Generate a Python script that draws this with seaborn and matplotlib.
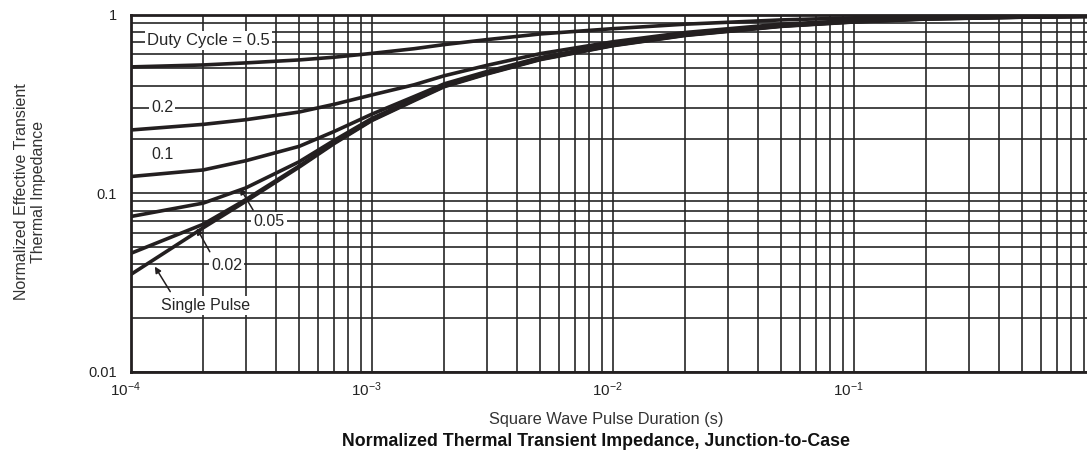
import numpy as np
import pandas as pd
import matplotlib
matplotlib.use("Agg")
import matplotlib.pyplot as plt
import matplotlib.transforms as mtransforms
import seaborn as sns

# pulse duration (s)
pulse = [1e-4, 2e-4, 3e-4, 5e-4, 7e-4, 1e-3, 1.5e-3, 2e-3, 3e-3, 5e-3,
         1e-2, 2e-2, 5e-2, 0.1, 0.2, 0.5, 1.0]

# normalized impedance per duty cycle
z_single = [.035, .064, .090, .14, .19, .255, .33, .395, .465, .56,
            .67, .765, .86, .91, .945, .968, .978]
z_002 = [.046, .067, .092, .142, .192, .257, .333, .398, .468, .563,
         .673, .768, .863, .912, .947, .969, .979]
z_005 = [.074, .088, .107, .15, .198, .262, .337, .402, .472, .567,
         .677, .772, .866, .915, .949, .97, .98]
z_01 = [.124, .135, .152, .183, .222, .277, .348, .41, .48, .575,
        .685, .78, .872, .92, .952, .972, .982]
z_02 = [.226, .243, .258, .285, .315, .355, .405, .455, .52, .605,
        .705, .795, .885, .928, .956, .975, .984]
z_05 = [.51, .523, .537, .558, .578, .607, .645, .68, .725, .78,
        .835, .885, .935, .96, .975, .985, .99]

series = {"Single Pulse": z_single, "0.02": z_002, "0.05": z_005,
          "0.1": z_01, "0.2": z_02, "0.5": z_05}

rows = []
for name, vals in series.items():
    for t, z in zip(pulse, vals):
        rows.append({"t": t, "z": z, "duty": name})
df = pd.DataFrame(rows)

sns.set_style("white")
plt.rcParams["font.family"] = ["Liberation Sans", "DejaVu Sans"]
plt.rcParams["axes.unicode_minus"] = False
plt.rcParams["mathtext.fontset"] = "custom"
plt.rcParams["mathtext.rm"] = "Liberation Sans"
plt.rcParams["mathtext.it"] = "Liberation Sans:italic"
plt.rcParams["mathtext.bf"] = "Liberation Sans:bold"

fig = plt.figure(figsize=(10.87, 4.58), dpi=100)
ax = fig.add_axes([0.1202, 0.1884, 0.887, 0.7795])

sns.lineplot(data=df, x="t", y="z", hue="duty", units="duty", estimator=None,
             palette=["#231f20"] * len(series), linewidth=2.6, legend=False,
             ax=ax, zorder=3)

ax.set_xscale("log")
ax.set_yscale("log")
ax.set_xlim(1e-4, 1)
ax.set_ylim(0.01, 1)
ax.set_xticks([1e-4, 1e-3, 1e-2, 1e-1])
ax.set_xticklabels(["$10^{-4}$", "$10^{-3}$", "$10^{-2}$", "$10^{-1}$"])

ax.grid(True, which="both", color="#262626", linewidth=1.2)
ax.set_axisbelow(True)
for s in ax.spines.values():
    s.set_color("#231f20")
    s.set_linewidth(2)

ax.set_yticks([0.01, 0.1, 1])
ax.set_yticklabels(["0.01", "0.1", "1"])
ax.tick_params(which="both", length=0, labelsize=10.5, colors="#222222")
ax.tick_params(axis="y", pad=10)
ax.tick_params(axis="x", pad=6, labelsize=11)
ax.set_xlabel("")
ax.set_ylabel("")

shift = mtransforms.ScaledTranslation(-5 / 100, 0, fig.dpi_scale_trans)
for lab in ax.get_xticklabels():
    lab.set_transform(lab.get_transform() + shift)

box = dict(facecolor="white", edgecolor="none", pad=1.5)
ax.text(2.1e-4, 0.72, "Duty Cycle = 0.5", ha="center", va="center",
        fontsize=12, bbox=box, zorder=4)
ax.text(1.35e-4, 0.304, "0.2", ha="center", va="center", fontsize=11.5,
        bbox=box, zorder=4)
ax.text(1.35e-4, 0.164, "0.1", ha="center", va="center", fontsize=11.5,
        bbox=box, zorder=4)
ax.text(3.75e-4, 0.069, "0.05", ha="center", va="center", fontsize=11.5,
        bbox=box, zorder=4)
ax.text(2.5e-4, 0.0396, "0.02", ha="center", va="center", fontsize=11.5,
        bbox=box, zorder=4)
ax.text(2.05e-4, 0.0236, "Single Pulse", ha="center", va="center",
        fontsize=11.5, bbox=box, zorder=4)

arrow = dict(arrowstyle="-|>", color="#231f20", lw=1.1, mutation_scale=9,
             shrinkA=0, shrinkB=0)
ax.annotate("", xy=(2.84e-4, 0.107), xytext=(3.22e-4, 0.0805),
            arrowprops=arrow, zorder=5)
ax.annotate("", xy=(1.88e-4, 0.0636), xytext=(2.13e-4, 0.047),
            arrowprops=arrow, zorder=5)
ax.annotate("", xy=(1.26e-4, 0.0388), xytext=(1.46e-4, 0.0281),
            arrowprops=arrow, zorder=5)

fig.text(0.0276, 0.582, "Normalized Effective Transient\nThermal Impedance",
         rotation=90, ha="center", va="center", multialignment="center",
         fontsize=11.5, linespacing=1.1, color="#333333")
fig.text(0.5575, 0.085, "Square Wave Pulse Duration (s)", ha="center",
         va="center", fontsize=11.8, color="#333333")
fig.text(0.548, 0.035, "Normalized Thermal Transient Impedance, Junction-to-Case",
         ha="center", va="center", fontsize=12.8, fontweight="bold", color="#111111")

fig.savefig("out.png", dpi=100)
